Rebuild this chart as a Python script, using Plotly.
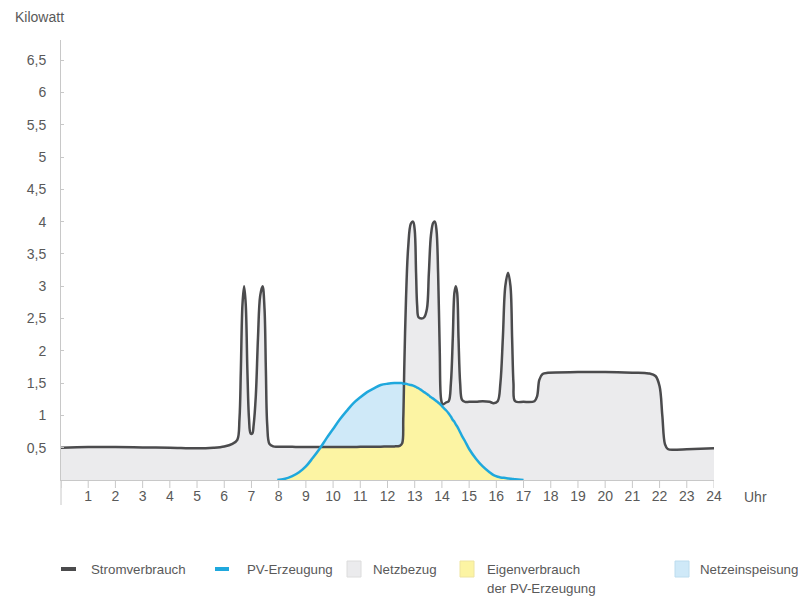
import numpy as np
import plotly.graph_objects as go

# ---- data ----
hours = [0, 1, 2, 3, 4, 5, 5.6, 6.0, 6.3, 6.48, 6.56, 6.61, 6.67, 6.73, 6.79, 6.85, 6.91, 6.97,
         7.03, 7.08, 7.16, 7.24, 7.32, 7.41, 7.48, 7.53, 7.58, 7.66, 7.8, 7.95, 8.2, 8.5, 8.75,
         9.0, 9.25, 9.5, 9.75, 10.0, 10.25, 10.5, 10.75, 11.0, 11.25, 11.5, 11.75, 12.0, 12.25,
         12.45, 12.54, 12.58, 12.62, 12.68, 12.76, 12.86, 12.94, 13.0, 13.05, 13.09, 13.14,
         13.25, 13.35, 13.45, 13.52, 13.6, 13.68, 13.74, 13.8, 13.86, 13.92, 13.97, 14.03,
         14.15, 14.25, 14.33, 14.4, 14.46, 14.51, 14.56, 14.61, 14.67, 14.74, 14.85, 15.0,
         15.25, 15.5, 15.75, 15.9, 16.05, 16.15, 16.24, 16.33, 16.43, 16.52, 16.58, 16.63,
         16.69, 17.0, 17.4, 17.5, 17.58, 17.7, 17.9, 19, 20, 21, 21.6, 21.85, 22.0, 22.1,
         22.2, 22.3, 22.6, 23, 24]

stromverbrauch = [0.50, 0.51, 0.51, 0.505, 0.50, 0.49, 0.50, 0.52, 0.56, 0.62, 0.95, 1.7, 2.72,
                  3.0, 2.72, 1.7, 0.95, 0.72, 0.72, 0.85, 1.3, 2.2, 2.85, 3.0, 2.65, 1.7, 0.85,
                  0.56, 0.52, 0.515, 0.515, 0.515, 0.51, 0.51, 0.51, 0.51, 0.51, 0.51, 0.51,
                  0.51, 0.51, 0.515, 0.515, 0.515, 0.515, 0.52, 0.52, 0.53, 0.57, 0.95, 1.8,
                  2.8, 3.6, 3.97, 4.0, 3.87, 3.2, 2.7, 2.52, 2.5, 2.52, 2.65, 3.2, 3.8, 3.98,
                  4.0, 3.87, 3.2, 2.0, 1.25, 1.17, 1.2, 1.22, 1.5, 2.2, 2.9, 3.0, 2.9, 2.2, 1.5,
                  1.24, 1.21, 1.21, 1.21, 1.22, 1.21, 1.19, 1.22, 1.5, 2.2, 3.0, 3.21, 3.0,
                  2.2, 1.5, 1.22, 1.21, 1.22, 1.3, 1.55, 1.64, 1.66, 1.67, 1.67, 1.66, 1.65,
                  1.61, 1.45, 1.0, 0.55, 0.48, 0.47, 0.475, 0.49]

_n = None
pv_erzeugung = [_n] * 29 + [0.0, 0.015, 0.06, 0.12, 0.21, 0.34, 0.48, 0.64, 0.79, 0.94, 1.07,
                            1.19, 1.28, 1.36, 1.42, 1.47, 1.49, 1.50, 1.50, 1.50, 1.49, 1.49,
                            1.49, 1.48, 1.47, 1.46, 1.45, 1.44, 1.43, 1.42, 1.39, 1.36, 1.33,
                            1.31, 1.28, 1.26, 1.24, 1.22, 1.20, 1.18, 1.16, 1.13, 1.08, 1.03,
                            0.98, 0.93, 0.90, 0.86, 0.83, 0.79, 0.74, 0.68, 0.60, 0.48, 0.33,
                            0.21, 0.12, 0.075, 0.05, 0.04, 0.035, 0.03, 0.025, 0.02, 0.017,
                            0.014, 0.01, 0.0] + [_n] * 17

y_tickvals = [0.5, 1, 1.5, 2, 2.5, 3, 3.5, 4, 4.5, 5, 5.5, 6, 6.5]
y_ticktext = ["0,5", "1", "1,5", "2", "2,5", "3", "3,5", "4", "4,5", "5", "5,5", "6", "6,5"]
x_tickvals = list(range(1, 25))
x_ticktext = [str(v) for v in x_tickvals]

legend_labels = ["Stromverbrauch", "PV-Erzeugung", "Netzbezug", "Eigenverbrauch<br>der PV-Erzeugung",
                 "Netzeinspeisung"]

# ---- styles ----
C_LINE = "#4b4b4d"
C_PV = "#1fa8dd"
C_GREY = "#ebebed"
C_YELLOW = "#fcf4a3"
C_BLUE = "#cfe9f8"
C_TEXT = "#595959"
C_AXIS = "#c8c8c8"
FONT = "Liberation Sans, Arial, sans-serif"
FS = 14
FS_LEG = 13.3

x = np.array(hours, dtype=float)
cons = np.array(stromverbrauch, dtype=float)
pv0 = np.array([0.0 if v is None else v for v in pv_erzeugung])
eigen = np.minimum(cons, pv0)

SM = 1.0
fig = go.Figure()
fig.add_trace(go.Scatter(x=x, y=pv0, mode="lines", line=dict(width=0, shape="spline", smoothing=SM),
                         fill="tozeroy", fillcolor=C_BLUE, hoverinfo="skip", showlegend=False))
fig.add_trace(go.Scatter(x=x, y=cons, mode="lines", line=dict(width=0, shape="spline", smoothing=SM),
                         fill="tozeroy", fillcolor=C_GREY, hoverinfo="skip", showlegend=False))
fig.add_trace(go.Scatter(x=x, y=eigen, mode="lines", line=dict(width=0, shape="spline", smoothing=SM),
                         fill="tozeroy", fillcolor=C_YELLOW, hoverinfo="skip", showlegend=False))
fig.add_trace(go.Scatter(x=x, y=cons, mode="lines",
                         line=dict(color=C_LINE, width=2.5, shape="spline", smoothing=SM),
                         showlegend=False))
fig.add_trace(go.Scatter(x=x, y=pv_erzeugung, mode="lines",
                         line=dict(color=C_PV, width=2.5, shape="spline", smoothing=SM),
                         showlegend=False))

# page body has an 8px margin -> figure is drawn 8px right/down of the window origin
OFF = 8
FIG_W, FIG_H = 806 - 2 * OFF, 597 - OFF
# plot area in window (reference) pixels
L, R, T, B = 61, 714, 40, 480
W, H = R - L, B - T


def px(v):
    return (v - L) / W


def py(v):
    return (B - v) / H


shapes = [
    # y-axis extension below the x-axis
    dict(type="line", xref="paper", yref="paper", x0=0, x1=0, y0=0, y1=py(505),
         line=dict(color=C_AXIS, width=1)),
]
# hour tick marks below the x-axis
for tv in [0] + x_tickvals:
    shapes.append(dict(type="line", xref="x", yref="paper", x0=tv, x1=tv, y0=0, y1=py(488),
                       line=dict(color=C_AXIS, width=1)))

annotations = [
    dict(text="Kilowatt", xref="paper", yref="paper", x=px(13), y=py(17), xanchor="left",
         yanchor="middle", showarrow=False, font=dict(size=FS, color=C_TEXT, family=FONT)),
    dict(text="Uhr", xref="paper", yref="paper", x=px(742), y=py(497), xanchor="left",
         yanchor="middle", showarrow=False, font=dict(size=FS, color=C_TEXT, family=FONT)),
]

# legend (drawn manually)
LY = 569
swatch_lines = [(61, 76, C_LINE), (215, 229, C_PV)]
for x0, x1, c in swatch_lines:
    shapes.append(dict(type="line", xref="paper", yref="paper", x0=px(x0), x1=px(x1), y0=py(LY),
                       y1=py(LY), line=dict(color=c, width=4)))
squares = [(347, C_GREY, "#dcdcdc"), (460, C_YELLOW, "#eee4a0"), (675, C_BLUE, "#bcdcee")]
for x0, c, lc in squares:
    shapes.append(dict(type="rect", xref="paper", yref="paper", x0=px(x0), x1=px(x0 + 14),
                       y0=py(LY + 8), y1=py(LY - 8), fillcolor=c, line=dict(color=lc, width=1)))
text_x = [89, 245, 371, 485, 698]
for tx, lab in zip(text_x, legend_labels):
    for i, part in enumerate(lab.split("<br>")):
        annotations.append(dict(text=part, xref="paper", yref="paper", x=px(tx),
                                y=py(LY + 19 * i), xanchor="left", yanchor="middle",
                                align="left", showarrow=False,
                                font=dict(size=FS_LEG, color=C_TEXT, family=FONT)))

fig.update_layout(
    width=FIG_W, height=FIG_H,
    margin=dict(l=L - OFF, r=(806 - 2 * OFF) - (R - OFF), t=T - OFF, b=(597 - OFF) - (B - OFF),
                pad=0),
    paper_bgcolor="white", plot_bgcolor="white",
    font=dict(family=FONT, color=C_TEXT, size=FS),
    shapes=shapes, annotations=annotations,
    xaxis=dict(range=[0, 24], tickvals=x_tickvals, ticktext=x_ticktext, showgrid=False,
               zeroline=False, showline=True, linecolor=C_AXIS, linewidth=1, ticks="outside",
               ticklen=3, tickcolor="rgba(0,0,0,0)", tickfont=dict(size=FS, color=C_TEXT)),
    yaxis=dict(range=[0, (B - T) / 64.6], tickvals=y_tickvals, ticktext=y_ticktext,
               showgrid=False, zeroline=False, showline=True, linecolor=C_AXIS, linewidth=1,
               ticks="inside", ticklen=3, tickcolor=C_AXIS, ticklabelstandoff=11,
               tickfont=dict(size=FS, color=C_TEXT)),
    showlegend=False,
)

fig.write_html("out.html")
